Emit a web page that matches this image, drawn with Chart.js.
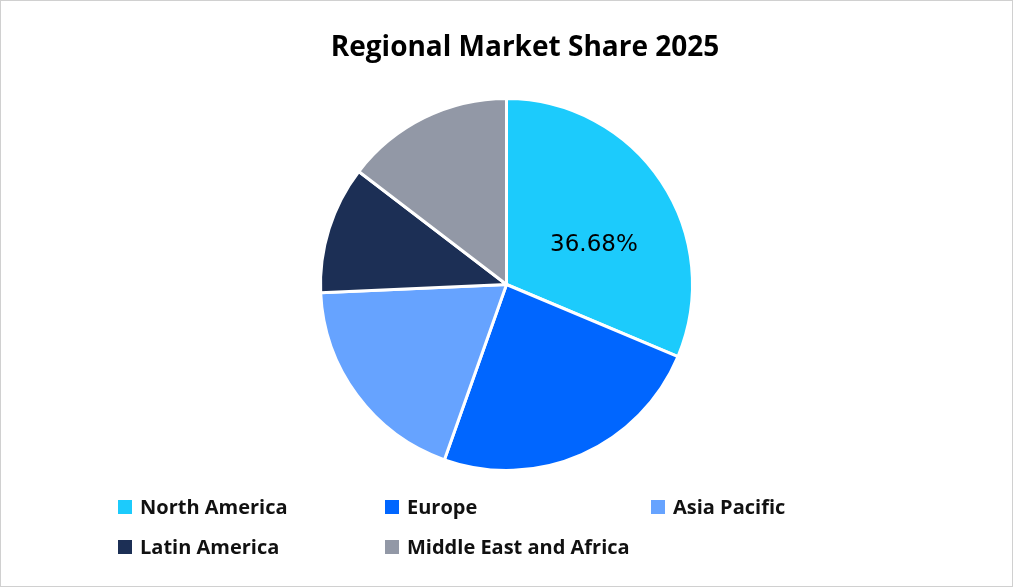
<!DOCTYPE html>
<html>
<head>
<meta charset="utf-8">
<script src="https://cdn.jsdelivr.net/npm/chart.js@4/dist/chart.umd.min.js"></script>
<style>
  html, body { margin: 0; padding: 0; background: #ffffff; }
  #wrap { position: relative; width: 1013px; height: 587px; }
  #legend { position: absolute; left: 0; top: 0; width: 1013px; height: 587px; pointer-events: none; }
  .item { position: absolute; display: flex; align-items: center; font-family: "Open Sans", "Liberation Sans", sans-serif; font-weight: bold; font-size: 20px; color: #111; white-space: nowrap; }
  .box { width: 14px; height: 14px; margin-right: 8px; }
</style>
</head>
<body>
<div id="wrap">
  <canvas id="c" width="1013" height="587"></canvas>
  <div id="legend"></div>
</div>
<script>
const categories = ["North America", "Europe", "Asia Pacific", "Latin America", "Middle East and Africa"];
const shareValues = [36.68, 28.2, 22.1, 13.0, 17.1];
const sliceColors = ["#1ccbfc", "#0066ff", "#66a3ff", "#1c2f55", "#9298a6"];
const labelledSlices = [0];
const chartTitle = "Regional Market Share 2025";

const frame = {
  id: 'frame',
  beforeDraw(chart) {
    const ctx = chart.ctx;
    ctx.save();
    ctx.fillStyle = '#ffffff';
    ctx.fillRect(0, 0, chart.width, chart.height);
    ctx.restore();
  },
  afterDraw(chart) {
    const ctx = chart.ctx;
    ctx.save();
    ctx.strokeStyle = '#d0d0d0';
    ctx.lineWidth = 1;
    ctx.strokeRect(0.5, 0.5, chart.width - 1, chart.height - 1);
    ctx.font = 'bold 28px "Open Sans", "Liberation Sans", sans-serif';
    ctx.fillStyle = '#000000';
    ctx.textAlign = 'center';
    ctx.textBaseline = 'middle';
    ctx.fillText(chartTitle, 525, 48);
    ctx.restore();
  }
};

const sliceLabels = {
  id: 'sliceLabels',
  afterDatasetsDraw(chart) {
    const ctx = chart.ctx;
    const meta = chart.getDatasetMeta(0);
    ctx.save();
    ctx.font = '23px "DejaVu Sans", sans-serif';
    ctx.fillStyle = '#000000';
    ctx.textAlign = 'center';
    ctx.textBaseline = 'middle';
    labelledSlices.forEach(i => {
      const p = meta.data[i].tooltipPosition();
      ctx.fillText(shareValues[i].toFixed(2) + '%', p.x + 10, p.y + 12);
    });
    ctx.restore();
  }
};

new Chart(document.getElementById('c'), {
  type: 'pie',
  data: {
    labels: categories,
    datasets: [{
      data: shareValues,
      backgroundColor: sliceColors,
      borderColor: '#ffffff',
      borderWidth: 3,
      hoverOffset: 0
    }]
  },
  options: {
    responsive: false,
    animation: false,
    events: [],
    layout: { padding: { top: 97, bottom: 115, left: 0, right: 0 } },
    plugins: {
      legend: { display: false },
      tooltip: { enabled: false },
      title: { display: false }
    }
  },
  plugins: [frame, sliceLabels]
});

// HTML legend built from the same arrays
const legendPos = [[118, 507], [385, 507], [651, 507], [118, 547], [385, 547]];
const legend = document.getElementById('legend');
categories.forEach((name, i) => {
  const d = document.createElement('div');
  d.className = 'item';
  d.style.left = legendPos[i][0] + 'px';
  d.style.top = (legendPos[i][1] - 14) + 'px';
  const b = document.createElement('span');
  b.className = 'box';
  b.style.background = sliceColors[i];
  const t = document.createElement('span');
  t.textContent = name;
  d.appendChild(b); d.appendChild(t);
  legend.appendChild(d);
});
</script>
</body>
</html>
